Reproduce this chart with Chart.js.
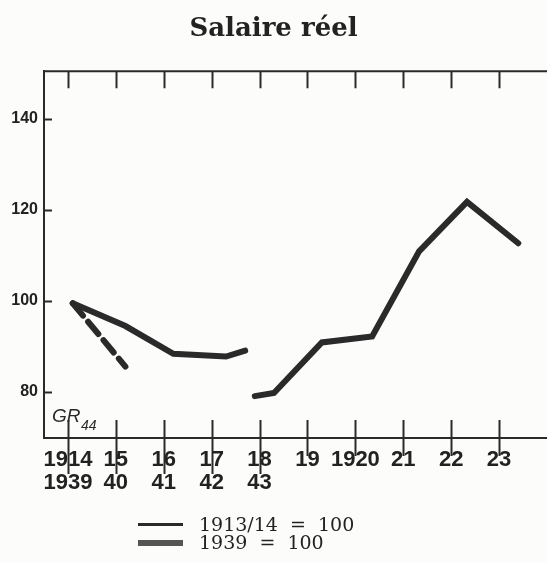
<!DOCTYPE html>
<html>
<head>
<meta charset="utf-8">
<script src="https://cdn.jsdelivr.net/npm/chart.js@4.4.1/dist/chart.umd.min.js"></script>
<style>
  html, body { margin: 0; padding: 0; background: #fcfcfb; }
  #wrap { position: relative; width: 547px; height: 562px; overflow: hidden; }
  #chart { position: absolute; left: 0; top: 0; }
  .key { position: absolute; left: 138px; width: 45px; }
  .txt { position: absolute; left: 199px; font: 19px "DejaVu Serif", serif; color: #222; white-space: pre; line-height: 20px; }
</style>
</head>
<body>
<div id="wrap">
  <canvas id="chart" width="547" height="562"></canvas>
  <div class="key" style="top:523px;height:3px;background:#2a2a2a"></div>
  <div class="txt" style="top:514px">1913/14  =  100</div>
  <div class="key" style="top:540px;height:6px;background:#555"></div>
  <div class="txt" style="top:532px">1939  =  100</div>
</div>
<script>
// axis ticks
const tickYears = [1914, 1915, 1916, 1917, 1918, 1919, 1920, 1921, 1922, 1923];
const tickTop = ["1914", "15", "16", "17", "18", "19", "1920", "21", "22", "23"];
const tickBottom = ["1939", "40", "41", "42", "43"];
const yTicks = [80, 100, 120, 140];

// real wage, 1913/14 = 100 (gap = null)
const years1913 = [1914.1, 1915.2, 1916.2, 1917.3, 1917.7, 1917.8, 1917.9, 1918.3, 1919.3, 1920.35, 1921.33, 1922.33, 1923.4];
const wage1913 = [99.5, 94.5, 88.4, 87.8, 89.1, null, 79.1, 79.8, 90.9, 92.2, 110.9, 121.8, 112.7];

// real wage, 1939 = 100 (plotted on the 1939.. row of the axis)
const years1939 = [1939.1, 1940.2];
const wage1939 = [99.5, 85.6];
const shift = 25;

const ink = "#2a2a2a";

const frame = {
    id: "frame",
    afterDraw(chart) {
        const c = chart.ctx, a = chart.chartArea, x = chart.scales.x, y = chart.scales.y;
        c.save();
        c.strokeStyle = ink;
        c.lineWidth = 2;
        c.beginPath();
        c.moveTo(a.left, a.top);
        c.lineTo(a.right, a.top);
        tickYears.forEach((v, i) => {
            const px = Math.round(x.getPixelForValue(v)) + 0.5;
            c.moveTo(px, a.top);
            c.lineTo(px, a.top + 17);
            c.moveTo(px, a.bottom - 18);
            c.lineTo(px, a.bottom + (i < tickBottom.length ? 36 : 18));
        });
        yTicks.forEach(v => {
            const py = Math.round(y.getPixelForValue(v)) + 0.5;
            c.moveTo(a.left, py);
            c.lineTo(a.left + 8, py);
        });
        c.stroke();
        c.fillStyle = ink;
        c.font = "italic 19px 'Liberation Sans'";
        c.textBaseline = "alphabetic";
        c.fillText("GR", a.left + 8, a.bottom - 16);
        c.font = "italic 14px 'Liberation Sans'";
        c.fillText("44", a.left + 37, a.bottom - 8);
        c.restore();
    }
};

new Chart(document.getElementById("chart"), {
    type: "line",
    data: {
        datasets: [
            {
                label: "1913/14 = 100",
                data: years1913.map((v, i) => ({ x: v, y: wage1913[i] })),
                borderColor: ink,
                borderWidth: 6,
                borderCapStyle: "round",
                spanGaps: false,
                pointRadius: 0,
                tension: 0
            },
            {
                label: "1939 = 100",
                data: years1939.map((v, i) => ({ x: v - shift, y: wage1939[i] })),
                borderColor: ink,
                borderWidth: 6,
                borderDash: [16, 8],
                borderCapStyle: "round",
                pointRadius: 0,
                tension: 0
            }
        ]
    },
    options: {
        responsive: false,
        animation: false,
        layout: { padding: 0 },
        plugins: {
            legend: { display: false },
            tooltip: { enabled: false },
            title: {
                display: true,
                text: "Salaire réel",
                color: "#222",
                font: { family: "'DejaVu Serif'", size: 26, weight: "bold" },
                padding: { top: 14, bottom: 26 }
            }
        },
        scales: {
            x: {
                type: "linear",
                min: 1913.5,
                max: 1924,
                afterBuildTicks: s => { s.ticks = tickYears.map(v => ({ value: v })); },
                afterFit: s => { s.height = 124; },
                grid: { drawOnChartArea: false, drawTicks: false },
                border: { display: true, color: ink, width: 2 },
                ticks: {
                    padding: 10,
                    color: "#222",
                    maxRotation: 0,
                    autoSkip: false,
                    font: { family: "'Liberation Sans'", size: 22, weight: "bold", lineHeight: 1.05 },
                    callback: (v, i) => i < tickBottom.length ? [tickTop[i], tickBottom[i]] : tickTop[i]
                }
            },
            y: {
                min: 69.9,
                max: 150.5,
                afterBuildTicks: s => { s.ticks = yTicks.map(v => ({ value: v })); },
                afterFit: s => { s.width = 44; },
                grid: { drawOnChartArea: false, drawTicks: false },
                border: { display: true, color: ink, width: 2 },
                ticks: {
                    padding: 6,
                    color: "#222",
                    font: { family: "'Liberation Sans'", size: 16, weight: "bold" }
                }
            }
        }
    },
    plugins: [frame]
});
</script>
</body>
</html>
